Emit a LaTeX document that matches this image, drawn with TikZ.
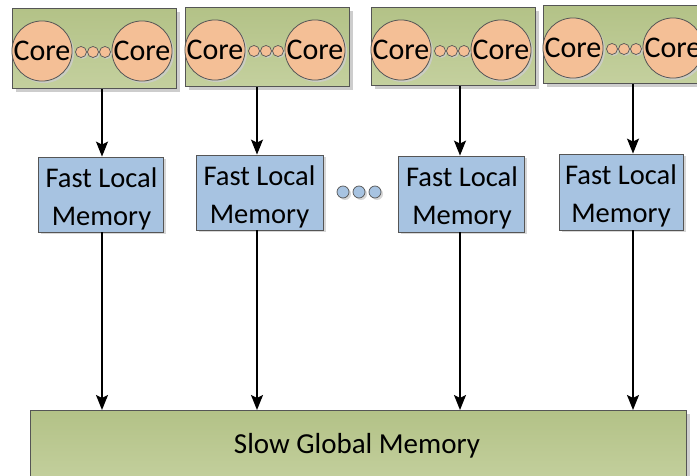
\documentclass[tikz,border=0pt]{standalone}
\usepackage{fontspec}
\setmainfont{Carlito}
\usetikzlibrary{arrows.meta,shadows,calc}
\definecolor{grnT}{RGB}{179,194,135}
\definecolor{grnB}{RGB}{196,208,158}
\definecolor{blu}{RGB}{167,195,225}
\definecolor{pch}{RGB}{244,191,150}
\definecolor{edg}{RGB}{85,85,85}
\definecolor{shd}{RGB}{205,205,205}
\tikzset{
  shd/.style={drop shadow={shadow xshift=3pt,shadow yshift=-3pt,fill=shd,opacity=1}},
  corebox/.style={draw=edg,line width=1.2pt,top color=grnT,bottom color=grnB,shd,inner sep=0pt},
  core/.style={circle,draw=edg,line width=0.8pt,fill=pch,minimum size=56pt,inner sep=0pt,
     font=\fontsize{30}{36}\selectfont,drop shadow={shadow xshift=2pt,shadow yshift=-2pt,fill=shd,opacity=0.8}},
  dotc/.style={circle,draw=edg,line width=0.7pt,fill=pch,minimum size=11pt,inner sep=0pt,
     drop shadow={shadow xshift=1.5pt,shadow yshift=-1.5pt,fill=shd,opacity=0.8}},
  bdot/.style={circle,draw=edg,line width=0.7pt,fill=blu,minimum size=12pt,inner sep=0pt,
     drop shadow={shadow xshift=2pt,shadow yshift=-2pt,fill=shd,opacity=0.8}},
  fastbox/.style={draw=edg,line width=0.8pt,fill=blu,inner sep=0pt,
     drop shadow={shadow xshift=2.5pt,shadow yshift=-2.5pt,fill=shd,opacity=0.8}},
  fasttext/.style={inner sep=0pt,align=center,font=\fontsize{28.5}{38}\selectfont},
  globbox/.style={draw=edg,line width=1.2pt,top color=grnT,bottom color=grnB,inner sep=0pt,shd},
  arr/.style={line width=1.6pt,-{Stealth[length=15pt,width=12pt,inset=3pt]}}
}
\newcommand{\coregroup}[4]{% name, left, top, height
  \node[corebox,minimum width=164pt,minimum height=#4pt,anchor=north west] (#1) at (#2,#3) {};
  \node[core] (#1L) at ($(#2,#3)+(30,43)$) {Core};
  \node[core] (#1R) at ($(#2,#3)+(130,43)$) {Core};
  \node[dotc] (#1a) at ($(#2,#3)+(69,44)$) {};
  \node[dotc] (#1b) at ($(#2,#3)+(81,44)$) {};
  \node[dotc] (#1c) at ($(#2,#3)+(93,44)$) {};
}
\begin{document}
\begin{tikzpicture}[x=1pt,y=-1pt]
\useasboundingbox (0,0) rectangle (697,476);
\clip (0,0) rectangle (697,476);
% core groups
\coregroup{c1}{12}{8}{80}
\coregroup{c2}{185}{7}{79}
\coregroup{c3}{371}{7}{78}
\coregroup{c4}{543}{5}{78}
% fast local memories
\node[fastbox,minimum width=125pt,minimum height=75pt] (f1) at (100.5,194.5) {};
\node[fastbox,minimum width=127pt,minimum height=75pt] (f2) at (259.5,192.5) {};
\node[fastbox,minimum width=126pt,minimum height=76pt] (f3) at (461,194) {};
\node[fastbox,minimum width=124pt,minimum height=76pt] (f4) at (621,192) {};
\node[fasttext] (f1t) at ($(f1.center)+(1,4)$) {Fast Local\\Memory};
\node[fasttext] (f2t) at ($(f2.center)+(0,4)$) {Fast Local\\Memory};
\node[fasttext] (f3t) at ($(f3.center)+(1,4)$) {Fast Local\\Memory};
\node[fasttext] (f4t) at ($(f4.center)+(0,4)$) {Fast Local\\Memory};
\node[bdot] (d1) at (343,192) {};
\node[bdot] (d2) at (359,192) {};
\node[bdot] (d3) at (375,192) {};
% global memory
\node[globbox,minimum width=656pt,minimum height=74pt,anchor=north west] (g) at (30,410) {};
\node[font=\fontsize{29}{35}\selectfont] (gt) at (357,446) {Slow Global Memory};
% arrow columns
\coordinate (X1) at (102,0);
\coordinate (X2) at (257,0);
\coordinate (X3) at (460,0);
\coordinate (X4) at (633,0);
\foreach \i in {1,2,3,4}{
  \draw[arr] (c\i.south -| X\i) -- (f\i.north -| X\i);
  \draw[arr] (f\i.south -| X\i) -- (g.north -| X\i);
}
\end{tikzpicture}
\end{document}
